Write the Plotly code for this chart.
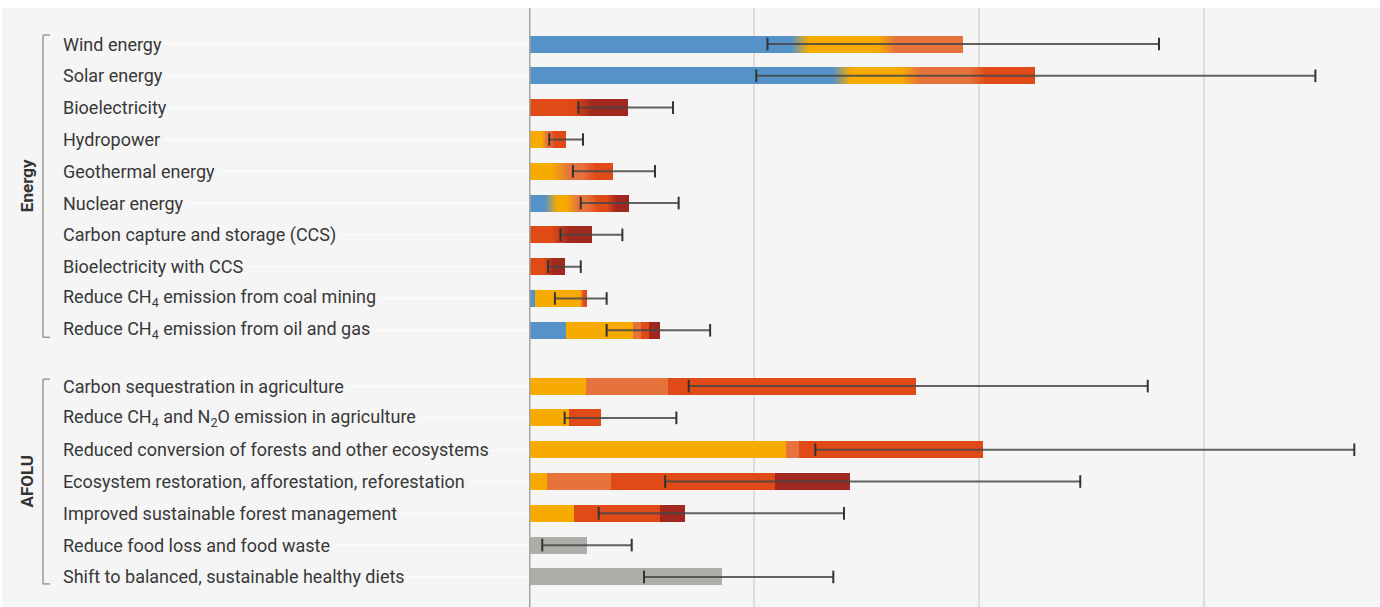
import plotly.graph_objects as go

# ---------------- data ----------------
categories = [
    "Wind energy",
    "Solar energy",
    "Bioelectricity",
    "Hydropower",
    "Geothermal energy",
    "Nuclear energy",
    "Carbon capture and storage (CCS)",
    "Bioelectricity with CCS",
    "Reduce CH<sub>4</sub> emission from coal mining",
    "Reduce CH<sub>4</sub> emission from oil and gas",
    "Carbon sequestration in agriculture",
    "Reduce CH<sub>4</sub> and N<sub>2</sub>O emission in agriculture",
    "Reduced conversion of forests and other ecosystems",
    "Ecosystem restoration, afforestation, reforestation",
    "Improved sustainable forest management",
    "Reduce food loss and food waste",
    "Shift to balanced, sustainable healthy diets",
]
groups = ["Energy"] * 10 + ["AFOLU"] * 7

# segment widths (GtCO2-eq/yr) per cost band
seg_blue = [2.41, 2.78, 0, 0, 0, 0.20, 0, 0, 0.053, 0.326, 0, 0, 0, 0, 0, 0, 0]
seg_yellow = [0.77, 0.61, 0, 0.14, 0.285, 0.19, 0, 0, 0.409, 0.601, 0.507, 0.356, 2.284, 0.16, 0.397, 0, 0]
seg_orange = [0.68, 0.60, 0, 0.07, 0.255, 0.18, 0, 0, 0.021, 0.069, 0.729, 0, 0.116, 0.569, 0, 0, 0]
seg_red = [0, 0.51, 0.48, 0.12, 0.21, 0.17, 0.28, 0.18, 0.03, 0.071, 2.204, 0.284, 1.636, 1.461, 0.77, 0, 0]
seg_darkred = [0, 0, 0.40, 0, 0, 0.15, 0.28, 0.14, 0, 0.097, 0, 0, 0, 0.66, 0.22, 0, 0]
seg_grey = [0, 0, 0, 0, 0, 0, 0, 0, 0, 0, 0, 0, 0, 0, 0, 0.513, 1.713]

err_low = [2.12, 2.02, 0.44, 0.18, 0.39, 0.46, 0.28, 0.17, 0.23, 0.69, 1.42, 0.317, 2.545, 1.21, 0.62, 0.118, 1.022]
err_high = [5.60, 6.99, 1.28, 0.48, 1.12, 1.33, 0.83, 0.46, 0.69, 1.61, 5.50, 1.31, 7.336, 4.90, 2.80, 0.913, 2.705]

# rows whose cost bands blend softly into each other
blended = [True, True, True, True, True, True, True, True,
           False, False, False, False, False, False, False, False, False]

# ---------------- style ----------------
colors = {
    "blue": "#5592c8",
    "yellow": "#f7ab00",
    "orange": "#e6733c",
    "red": "#df4a16",
    "darkred": "#a0281e",
    "grey": "#adadaa",
}
series = [
    ("blue", seg_blue),
    ("yellow", seg_yellow),
    ("orange", seg_orange),
    ("red", seg_red),
    ("darkred", seg_darkred),
    ("grey", seg_grey),
]
BG = "#f5f5f5"
FONT = "Roboto, Liberation Sans, sans-serif"

# row positions (gap between the two groups)
ypos = [float(i) for i in range(10)] + [10.755 + j for j in range(7)]
BAR_W = 0.535

fig = go.Figure()

# stacked segments with explicit bases
n = len(categories)
cum = [0.0] * n
seg_info = [[] for _ in range(n)]
for name, vals in series:
    bases = cum[:]
    fig.add_trace(go.Bar(
        orientation="h", y=ypos, x=vals, base=bases,
        marker=dict(color=colors[name], line=dict(width=0)),
        width=BAR_W, hoverinfo="skip", showlegend=False,
    ))
    for i, v in enumerate(vals):
        if v > 0:
            seg_info[i].append((cum[i], cum[i] + v, colors[name]))
        cum[i] += v


def hex2rgb(h):
    h = h.lstrip("#")
    return tuple(int(h[k:k + 2], 16) for k in (0, 2, 4))


# soft transitions between adjacent bands
gx, gb, gy, gc = [], [], [], []
NS = 12
for i in range(n):
    if not blended[i]:
        continue
    segs = seg_info[i]
    for a, b in zip(segs[:-1], segs[1:]):
        bnd = a[1]
        w = min(0.16, 0.6 * (a[1] - a[0]), 0.6 * (b[1] - b[0]))
        c1, c2 = hex2rgb(a[2]), hex2rgb(b[2])
        step = w / NS
        for k in range(NS):
            t = (k + 0.5) / NS
            c = tuple(round(c1[j] + (c2[j] - c1[j]) * t) for j in range(3))
            gx.append(step * 1.35)
            gb.append(bnd - w / 2 + k * step)
            gy.append(ypos[i])
            gc.append("rgb(%d,%d,%d)" % c)
fig.add_trace(go.Bar(
    orientation="h", y=gy, x=gx, base=gb,
    marker=dict(color=gc, line=dict(width=0)),
    width=BAR_W, hoverinfo="skip", showlegend=False,
))

# uncertainty ranges
lx, ly = [], []
for lo, hi, p in zip(err_low, err_high, ypos):
    lx += [lo, hi, None]
    ly += [p, p, None]
fig.add_trace(go.Scatter(
    x=lx, y=ly, mode="lines",
    line=dict(color="rgba(70,70,70,0.85)", width=2),
    hoverinfo="skip", showlegend=False,
))
fig.add_trace(go.Scatter(
    x=err_low + err_high, y=ypos + ypos, mode="markers",
    marker=dict(symbol="line-ns", size=9, line=dict(color="#333333", width=2)),
    hoverinfo="skip", showlegend=False,
))

L = 529
PLOT_W = 1380 - L
X_MAX = PLOT_W / 112.5

shapes = []
annotations = []

# faint white leader lines from labels to axis
for p in ypos:
    shapes.append(dict(
        type="line", xref="paper", xsizemode="pixel", xanchor=0,
        x0=62 - L, x1=0, yref="y", y0=p, y1=p,
        line=dict(color="white", width=1), layer="below",
    ))

# category labels
for cat, p in zip(categories, ypos):
    annotations.append(dict(
        text=cat, xref="paper", x=0, xanchor="left", xshift=62 - L - 3,
        yref="y", y=p, yanchor="middle", showarrow=False,
        font=dict(family=FONT, size=18, color="#383838"),
        bgcolor=BG, borderpad=3,
    ))

# group brackets and titles
bx = 43 - L
for gname, top, bot in [("Energy", ypos[0] - 0.283, ypos[9] + 0.22),
                        ("AFOLU", ypos[10] - 0.22, ypos[16] + 0.22)]:
    lc = dict(color="#9a9a9a", width=1.5)
    shapes.append(dict(type="line", xref="paper", xsizemode="pixel", xanchor=0,
                       x0=bx, x1=bx, yref="y", y0=top, y1=bot, line=lc))
    shapes.append(dict(type="line", xref="paper", xsizemode="pixel", xanchor=0,
                       x0=bx, x1=bx + 7, yref="y", y0=top, y1=top, line=lc))
    shapes.append(dict(type="line", xref="paper", xsizemode="pixel", xanchor=0,
                       x0=bx, x1=bx + 7, yref="y", y0=bot, y1=bot, line=lc))
    annotations.append(dict(
        text=gname, xref="paper", x=0, xshift=27 - L, xanchor="center",
        yref="y", y=(top + bot) / 2, yanchor="middle", textangle=-90,
        showarrow=False,
        font=dict(family=FONT, size=17, color="#333333", weight="bold"),
    ))

# vertical axis line
shapes.append(dict(type="line", xref="x", x0=0, x1=0, yref="paper", y0=0, y1=1,
                   line=dict(color="#a5a5a0", width=3), layer="above"))

# white border strips (top and left)
shapes.append(dict(type="rect", xref="paper", xsizemode="pixel", xanchor=0,
                   x0=-L, x1=PLOT_W, yref="paper", ysizemode="pixel", yanchor=1,
                   y0=0, y1=8, fillcolor="white", line=dict(width=0)))
shapes.append(dict(type="rect", xref="paper", xsizemode="pixel", xanchor=0,
                   x0=-L, x1=-L + 2, yref="paper", y0=0, y1=1,
                   fillcolor="white", line=dict(width=0)))

fig.update_layout(
    width=1380, height=607,
    margin=dict(l=L, r=0, t=8, b=0),
    paper_bgcolor=BG, plot_bgcolor=BG,
    barmode="overlay", bargap=0,
    showlegend=False,
    xaxis=dict(range=[0, X_MAX], tick0=0, dtick=2, showgrid=True,
               gridcolor="#dddddd", gridwidth=2, showticklabels=False,
               zeroline=False, showline=False, ticks="", fixedrange=True),
    yaxis=dict(range=[17.70, -1.132], showgrid=False, showticklabels=False,
               zeroline=False, showline=False, ticks="", fixedrange=True),
    shapes=shapes,
    annotations=annotations,
)

fig.write_html("out.html")
